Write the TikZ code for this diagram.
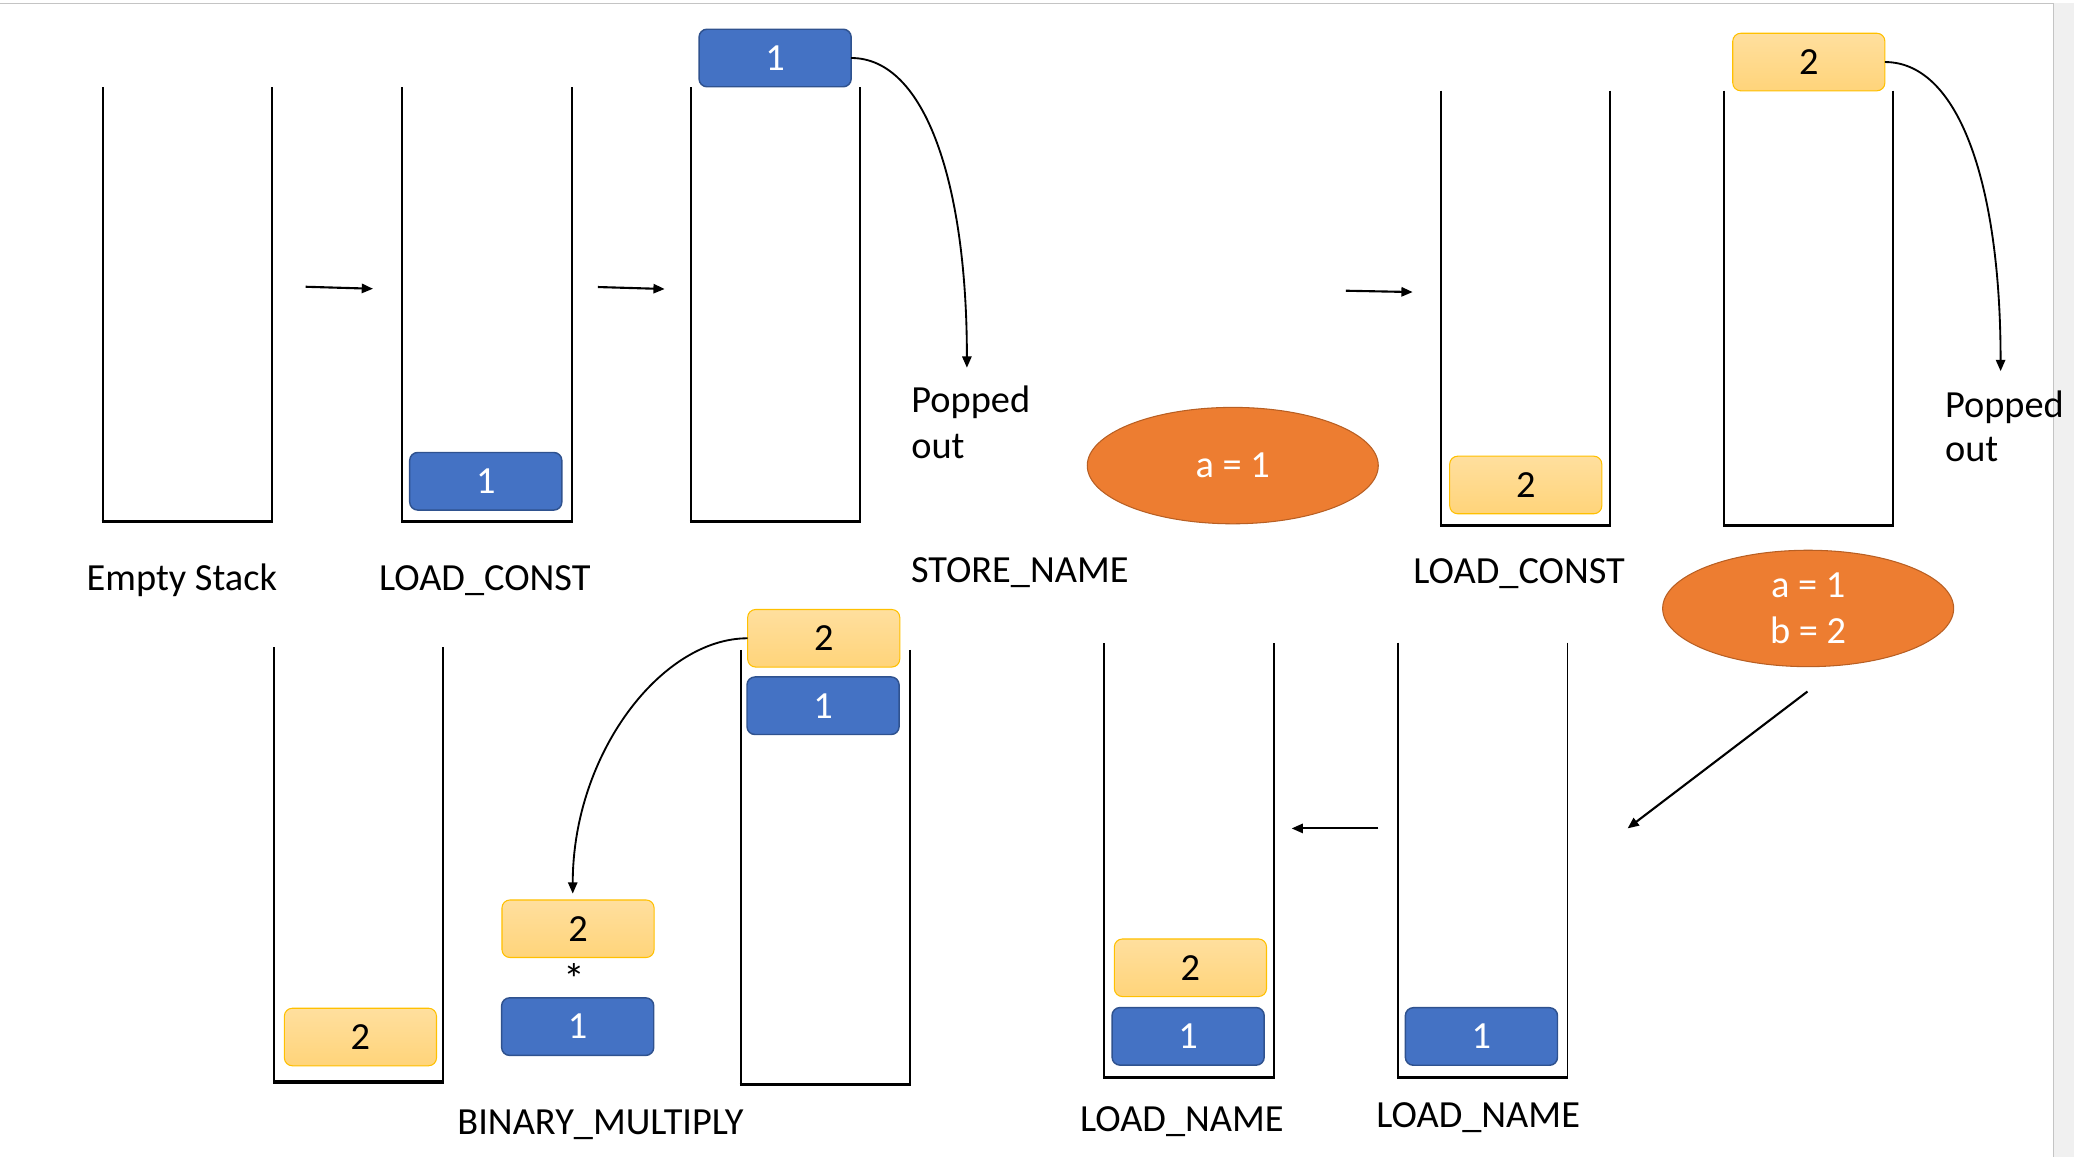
\documentclass[tikz,border=0pt]{standalone}
\usepackage{fontspec}
\setmainfont{Carlito}
\usetikzlibrary{arrows.meta,shapes.geometric}
\definecolor{boxblue}{HTML}{4472C4}
\definecolor{boxblueline}{HTML}{2F528F}
\definecolor{goldtop}{HTML}{FFDF9E}
\definecolor{goldbot}{HTML}{FFD47A}
\definecolor{goldline}{HTML}{FFC000}
\definecolor{orangefill}{HTML}{ED7D31}
\definecolor{orangeline}{HTML}{B85F23}
\definecolor{framegray}{HTML}{C4C4C4}
\definecolor{stripgray}{HTML}{F0F0F0}
\begin{document}
\begin{tikzpicture}[x=1pt,y=-1pt,
  every node/.style={font=\fontsize{29}{35}\selectfont, inner sep=0pt, outer sep=0pt},
  stackfr/.style={minimum width=128pt, minimum height=328.5pt},
  wall/.style={line width=1.5pt},
  basel/.style={line width=2.3pt},
  val/.style={rounded corners=6pt, minimum width=115pt, minimum height=43.5pt},
  bluebox/.style={val, fill=boxblue, draw=boxblueline, line width=1.1pt, text=white},
  goldbox/.style={val, top color=goldtop, bottom color=goldbot, draw=goldline, line width=0.8pt, text=black},
  var/.style={ellipse, fill=orangefill, draw=orangeline, line width=0.8pt, minimum width=220pt, minimum height=88pt, text=white, align=center},
  lbl/.style={anchor=base},
  arr/.style={-{Triangle[length=8.5pt,width=7pt]}, line width=1.6pt},
  curv/.style={-{Triangle[length=8.5pt,width=7pt]}, line width=1.4pt}]
\useasboundingbox (0,0) rectangle (1568,874.7);
% frame of the screenshot
\fill[stripgray] (1553,2.6) rectangle (1568,874.7);
\draw[framegray, line width=1.1pt] (0,2.6) -- (1552.5,2.6) -- (1552.5,874.7);

% stacks
\node[stackfr] (s1) at (141.55,230.2) {};
\node[stackfr] (s2) at (368.25,230.2) {};
\node[stackfr] (s3) at (586.25,230.2) {};
\node[stackfr] (s4) at (1153.25,232.8) {};
\node[stackfr] (s5) at (1367.5,232.8) {};
\node[stackfr] (s6) at (1121.05,650.0) {};
\node[stackfr] (s7) at (899.0,650.4) {};
\node[stackfr] (s8) at (271.25,653.75) {};
\node[stackfr] (s9) at (624.0,655.55) {};
\foreach \s in {s1,s2,s3,s4,s5,s6,s7,s8,s9}{
  \draw[wall] (\s.north west) -- (\s.south west);
  \draw[wall] (\s.north east) -- (\s.south east);
  \draw[basel] ([xshift=-0.75pt]\s.south west) -- ([xshift=0.75pt]\s.south east);
}

% values
\node[bluebox] (b3) at (586,43.85) {1};
\node[bluebox] (b2) at (367.25,363.85) {1};
\node[goldbox] (y4) at (1153.5,366.65) {2};
\node[goldbox] (y5) at (1367.5,46.9) {2};
\node[bluebox] (b6) at (1120,783.6) {1};
\node[goldbox] (y7) at (900,731.65) {2};
\node[bluebox] (b7) at (898.25,783.5) {1};
\node[goldbox] (y8) at (272.5,784) {2};
\node[goldbox] (y9) at (622.75,482.55) {2};
\node[bluebox] (b9) at (622.25,533.55) {1};
\node[goldbox] (ym) at (437,702.15) {2};
\node[font=\fontsize{33}{35}\selectfont] (star) at (434,740) {*};
\node[bluebox] (bm) at (436.75,776.15) {1};

% variables
\node[var] (e1) at (932,352) {a = 1};
\node[var] (e2) at (1367,460) {a = 1\\b = 2};

% straight arrows
\coordinate (a1s) at (231,216.8); \coordinate (a1e) at (282,218.3);
\coordinate (a2s) at (452,217);   \coordinate (a2e) at (502.5,218.5);
\coordinate (a3s) at (1017.5,219.8); \coordinate (a3e) at (1068,220.8);
\coordinate (a4s) at (1366.5,522.8); \coordinate (a4e) at (1230.5,626.3);
\coordinate (a5s) at (1042,626.3); \coordinate (a5e) at (976.5,626.3);
\draw[arr] (a1s) -- (a1e);
\draw[arr] (a2s) -- (a2e);
\draw[arr] (a3s) -- (a3e);
\draw[arr] (a4s) -- (a4e);
\draw[arr] (a5s) -- (a5e);

% popped curves
\coordinate (p1) at (731,278);
\coordinate (p2) at (1512.5,280.6);
\coordinate (p3) at (433,675.6);
\draw[curv] (b3.east) .. controls (700,43.85) and (731,140) .. (p1);
\draw[curv] (y5.east) .. controls (1482,46.9) and (1512.5,142) .. (p2);
\draw[curv] (y9.west) .. controls (500,482.55) and (433,570) .. (p3);

% labels
\node[lbl] (l1) at (137.5,446.6) {Empty Stack};
\node[lbl] (l2) at (366.5,446.6) {LOAD\_CONST};
\node[lbl] (l3) at (771,440.5) {STORE\_NAME};
\node[lbl] (l4) at (1148.5,441.2) {LOAD\_CONST};
\node[lbl] (l5) at (454,858) {BINARY\_MULTIPLY};
\node[lbl] (l6) at (893.5,855.3) {LOAD\_NAME};
\node[lbl] (l7) at (1117.5,852.5) {LOAD\_NAME};
\node[anchor=base west] (po1) at (689,312) {Popped};
\node[anchor=base west] (ou1) at (689,346.5) {out};
\node[anchor=base west] (po2) at (1470.5,315.3) {Popped};
\node[anchor=base west] (ou2) at (1470.5,349) {out};
\end{tikzpicture}
\end{document}
